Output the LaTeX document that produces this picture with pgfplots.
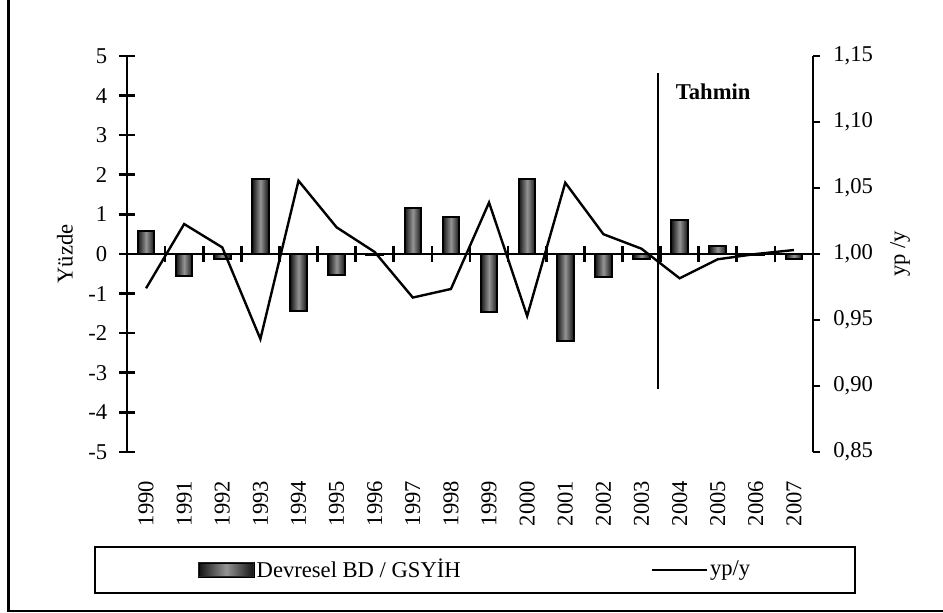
\documentclass[border=0pt]{standalone}
\usepackage{fontspec}
\setmainfont{Liberation Serif}
\usepackage{pgfplots}
\pgfplotsset{compat=1.18}
\newcommand\fs{\fontsize{11.3}{13.5}\selectfont}
\pgfplotsset{
  barsty/.style={ybar, bar width=8.3pt, bar shift=0pt, draw=black, line width=1pt,
    left color=black!92, right color=black!92, middle color=black!42},
}

\begin{document}
\begin{tikzpicture}
\path[use as bounding box] (0,0) rectangle (471.5pt,-306.5pt);
% outer frame (left and bottom edges visible)
\draw[line width=1.2pt] (4.15pt,0pt) -- (4.15pt,-305.4pt) -- (472pt,-305.4pt);

% left axis: bars
\begin{axis}[
  at={(63.5pt,-226pt)}, anchor=south west,
  scale only axis, width=343pt, height=198pt,
  xmin=-0.5, xmax=17.5, ymin=-5, ymax=5,
  axis y line*=left, axis x line*=bottom,
  x axis line style={draw=none},
  axis line style={line width=1.3pt},
  xtick={0,...,17},
  xticklabels={1990,1991,1992,1993,1994,1995,1996,1997,1998,1999,2000,2001,2002,2003,2004,2005,2006,2007},
  xtick style={draw=none},
  xticklabel style={rotate=90, anchor=east, font=\fs, inner sep=0pt},
  xticklabel shift=10.5pt,
  ytick={-5,-4,-3,-2,-1,0,1,2,3,4,5},
  ytick style={line width=1.3pt, black},
  tick align=center, major tick length=7.5pt,
  yticklabel style={font=\fs, inner sep=0pt, /pgf/number format/assume math mode=true},
  yticklabel shift=6pt,
  ylabel={Yüzde},
  every axis y label/.style={at={(axis description cs:-0.0904,0.5)}, rotate=90, anchor=center, font=\fs},
  clip=false,
]
% Devresel BD / GSYIH, one bar per year so each gets its own shading
\addplot[barsty] coordinates {(0,0.58)};
\addplot[barsty] coordinates {(1,-0.56)};
\addplot[barsty] coordinates {(2,-0.13)};
\addplot[barsty] coordinates {(3,1.89)};
\addplot[barsty] coordinates {(4,-1.43)};
\addplot[barsty] coordinates {(5,-0.52)};
\addplot[barsty] coordinates {(6,-0.03)};
\addplot[barsty] coordinates {(7,1.16)};
\addplot[barsty] coordinates {(8,0.93)};
\addplot[barsty] coordinates {(9,-1.46)};
\addplot[barsty] coordinates {(10,1.89)};
\addplot[barsty] coordinates {(11,-2.2)};
\addplot[barsty] coordinates {(12,-0.59)};
\addplot[barsty] coordinates {(13,-0.13)};
\addplot[barsty] coordinates {(14,0.86)};
\addplot[barsty] coordinates {(15,0.21)};
\addplot[barsty] coordinates {(16,-0.03)};
\addplot[barsty] coordinates {(17,-0.12)};
% zero line with category boundary ticks
\draw[line width=1.3pt] (axis cs:-0.5,0) -- (axis cs:17.5,0);
\pgfplotsinvokeforeach{0.5,1.5,2.5,3.5,4.5,5.5,6.5,7.5,8.5,9.5,10.5,11.5,12.5,13.5,14.5,15.5,16.5}{
  \draw[line width=1.3pt] ([yshift=-4pt]axis cs:#1,0) -- ([yshift=4pt]axis cs:#1,0);
}
% forecast divider
\draw[line width=0.8pt] (axis cs:13.44,4.57) -- (axis cs:13.44,-3.4);
\node[font=\fs\bfseries] at (axis cs:14.88,4.10) {Tahmin};
\end{axis}

% right axis: yp/y
\begin{axis}[
  at={(63.5pt,-226pt)}, anchor=south west,
  scale only axis, width=343pt, height=198pt,
  xmin=-0.5, xmax=17.5, ymin=0.85, ymax=1.15,
  axis y line*=right, axis x line=none,
  axis line style={line width=1.3pt},
  ytick={0.85,0.90,0.95,1.00,1.05,1.10,1.15},
  ytick style={line width=1.3pt, black},
  tick align=outside, major tick length=3.5pt,
  yticklabel style={font=\fs, inner sep=0pt,
    /pgf/number format/.cd, fixed, fixed zerofill, precision=2, use comma, assume math mode=true},
  yticklabel shift=6.5pt,
  ylabel={yp /y},
  every axis y label/.style={at={(axis description cs:1.1268,0.5)}, rotate=90, anchor=center, font=\fs},
  legend style={at={(axis description cs:0.5073,-0.2374)}, anchor=north,
    draw=black, line width=1pt, inner xsep=51.5pt, inner ysep=5pt,
    font=\fs, nodes={inner sep=1pt},
    /tikz/every even column/.append style={column sep=94pt}},
  legend cell align=left,
  legend columns=2,
]
\addlegendimage{legend image code/.code={
  \shade[left color=black!92, right color=black!92, middle color=black!42]
    (0pt,-3.5pt) rectangle (27.5pt,3.5pt);
  \draw[black!85, line width=0.6pt] (0pt,-3.5pt) rectangle (27.5pt,3.5pt);}}
\addlegendentry{Devresel BD / GSYİH}
\addplot[black, line width=1.2pt, mark=none,
  legend image code/.code={\draw[black, line width=1.2pt] (0pt,0pt) -- (27.5pt,0pt);}]
  coordinates {
  (0,0.974) (1,1.0227) (2,1.005) (3,0.9356) (4,1.0555) (5,1.0202)
  (6,1.0015) (7,0.967) (8,0.9735) (9,1.039) (10,0.953) (11,1.054)
  (12,1.015) (13,1.004) (14,0.9816) (15,0.996) (16,1.000) (17,1.003)
};
\addlegendentry{yp/y}
\end{axis}
\end{tikzpicture}
\end{document}
